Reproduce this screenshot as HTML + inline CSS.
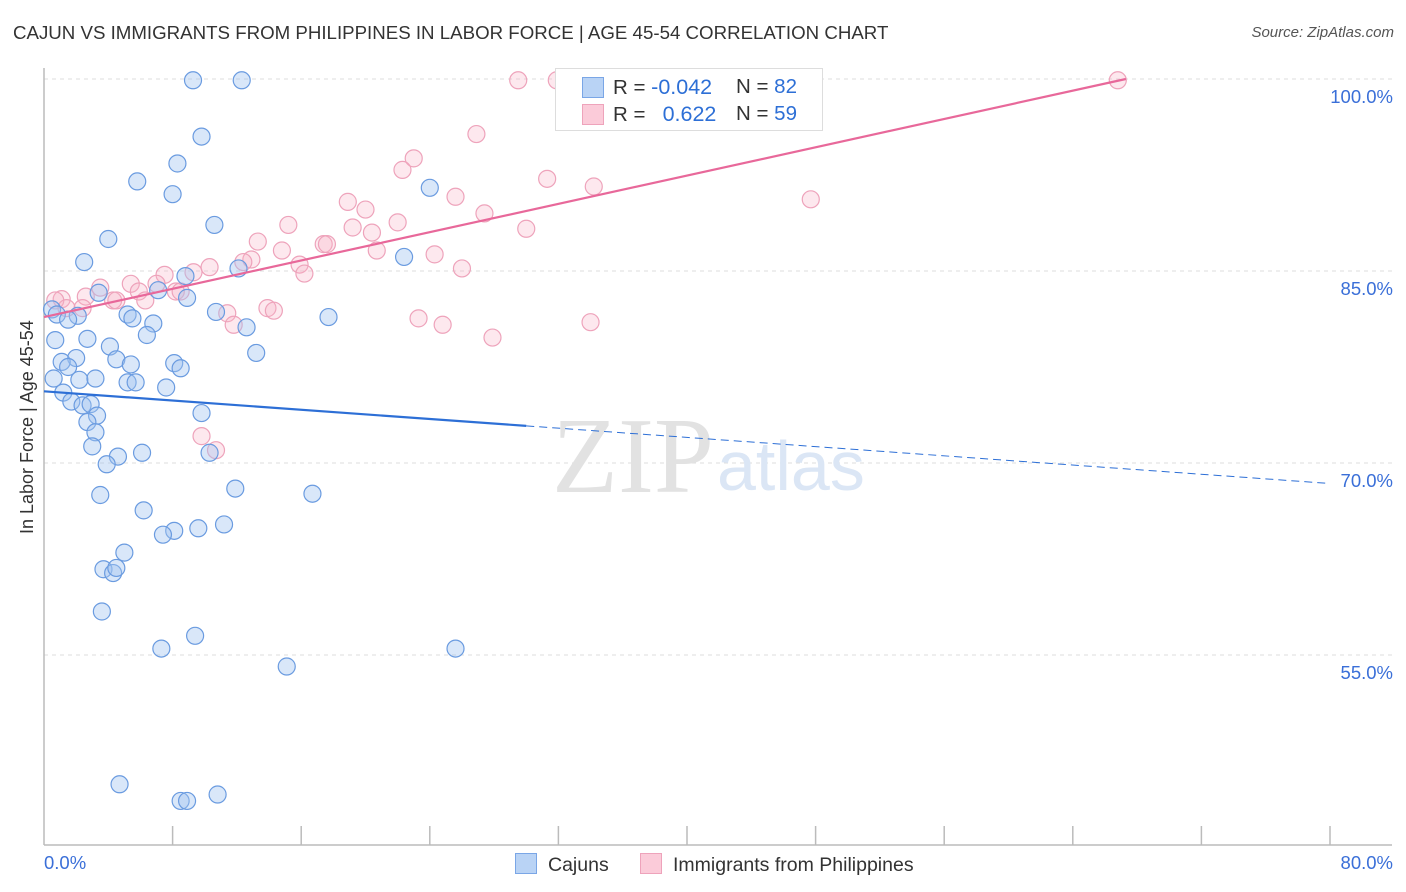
<!DOCTYPE html>
<html><head><meta charset="utf-8">
<style>
body{margin:0;background:#fff;font-family:"Liberation Sans",sans-serif;}
#wrap{position:relative;width:1406px;height:892px;overflow:hidden;}
.t{position:absolute;white-space:nowrap;}
</style></head>
<body><div id="wrap">
<div class="t" style="left:13px;top:22px;font-size:18.7px;color:#333;">CAJUN VS IMMIGRANTS FROM PHILIPPINES IN LABOR FORCE | AGE 45-54 CORRELATION CHART</div>
<div class="t" style="right:12px;top:24px;font-size:15px;color:#555;font-style:italic;">Source: ZipAtlas.com</div>
<svg id="plot" width="1406" height="892" style="position:absolute;left:0;top:0"></svg>
</div>
<script>
const blueX=[9.27,12.3,9.8,8.3,5.8,8.0,24.0,10.6,4.0,2.5,22.4,12.1,8.8,7.1,3.4,8.9,0.5,0.8,2.1,1.5,5.2,5.5,6.8,10.7,17.7,12.6,6.4,2.7,0.7,4.1,13.2,2.0,1.1,4.5,5.4,8.1,8.5,1.5,0.6,2.2,3.2,5.2,5.7,7.6,1.2,1.7,2.4,2.9,3.3,9.8,2.7,3.2,3.0,6.1,4.6,3.9,10.3,11.9,3.5,16.7,6.2,8.1,7.4,9.6,11.2,5.0,3.7,4.3,4.5,3.6,9.4,7.3,15.1,25.6,4.7,10.8,8.5,8.9];
const blueY=[99.9,99.9,95.5,93.4,92.0,91.0,91.5,88.6,87.5,85.7,86.1,85.2,84.6,83.5,83.3,82.9,82.0,81.6,81.5,81.2,81.6,81.3,80.9,81.8,81.4,80.6,80.0,79.7,79.6,79.1,78.6,78.2,77.9,78.1,77.7,77.8,77.4,77.5,76.6,76.5,76.6,76.3,76.3,75.9,75.5,74.8,74.5,74.6,73.7,73.9,73.2,72.4,71.3,70.8,70.5,69.9,70.8,68.0,67.5,67.6,66.3,64.7,64.4,64.9,65.2,63.0,61.7,61.4,61.8,58.4,56.5,55.5,54.1,55.5,44.9,44.1,43.6,43.6];
const pinkX=[29.5,31.9,66.8,26.9,23.0,22.3,31.3,34.2,25.6,47.7,18.9,20.0,27.4,15.2,22.0,19.2,20.4,30.0,13.3,14.8,17.4,17.6,20.7,24.3,12.9,12.4,15.9,10.3,16.2,26.0,7.5,9.3,7.0,5.4,3.5,5.9,8.2,8.5,2.6,1.1,0.7,4.3,6.3,1.4,2.4,4.5,11.4,13.9,14.3,11.8,23.3,24.8,34.0,27.9,9.8,10.7];
const pinkY=[99.9,99.9,99.9,95.7,93.8,92.9,92.2,91.6,90.8,90.6,90.4,89.8,89.5,88.6,88.8,88.4,88.0,88.3,87.3,86.6,87.1,87.1,86.6,86.3,85.9,85.7,85.5,85.3,84.8,85.2,84.7,84.9,84.0,84.0,83.7,83.4,83.4,83.4,83.0,82.8,82.7,82.7,82.7,82.1,82.1,82.7,81.7,82.1,81.9,80.8,81.3,80.8,81.0,79.8,72.1,71.0];
const yTicks=[100,85,70,55];
const yTickLabels=["100.0%","85.0%","70.0%","55.0%"];
const blueTrend=[75.6,68.4]; // y at x=0, x=80
const pinkTrend=[81.4,100.0,67.3]; // y at x=0, y at xEnd, xEnd
const NS="http://www.w3.org/2000/svg";
const svg=document.getElementById('plot');
const X=v=>44+v/80*1286;
const Y=v=>79+(100-v)/15*192;
function mk(tag,a){const e=document.createElementNS(NS,tag);for(const k in a)e.setAttribute(k,a[k]);svg.appendChild(e);return e;}
yTicks.forEach((t,i)=>{
 const g=mk('line',{x1:44,x2:1392,y1:Y(t),y2:Y(t),stroke:'#ddd','stroke-dasharray':'4,4'});
 
 
 const tx=mk('text',{x:1393,y:Y(t)+24,'text-anchor':'end','font-size':18.5,fill:'#3a6fd8','font-family':'Liberation Sans, sans-serif'});
 tx.textContent=yTickLabels[i];
 
 
});
const ax=mk('line',{x1:44,x2:44,y1:68,y2:845,stroke:'#bbb','stroke-width':1.5});


const bx=mk('line',{x1:44,x2:1392,y1:845,y2:845,stroke:'#bbb','stroke-width':1.5});


for(let i=1;i<=10;i++){const tk=mk('line',{x1:X(i*8),x2:X(i*8),y1:826,y2:845,stroke:'#bbb','stroke-width':1.5});
 
 }
const wm=mk('text',{x:552,y:492,'font-size':108,fill:'#e2e2e2','font-family':'Liberation Serif, serif'});wm.textContent='ZIP';


const wm2=mk('text',{x:717,y:490,'font-size':70,fill:'#dbe6f5','font-family':'Liberation Sans, sans-serif'});wm2.textContent='atlas';


pinkX.forEach((x,i)=>{const c=mk('circle',{cx:X(x),cy:Y(pinkY[i]),r:8.5,fill:'rgba(248,180,200,0.3)',stroke:'#eea3bb','stroke-width':1.2});
 
 });
blueX.forEach((x,i)=>{const c=mk('circle',{cx:X(x),cy:Y(blueY[i]),r:8.5,fill:'rgba(160,195,240,0.4)',stroke:'#6a9be0','stroke-width':1.2});
 
 });
const bAt=x=>blueTrend[0]+(blueTrend[1]-blueTrend[0])*x/80;
const l1=mk('line',{x1:X(0),y1:Y(bAt(0)),x2:X(30),y2:Y(bAt(30)),stroke:'#2d6fd6','stroke-width':2.2});


const l2=mk('line',{x1:X(30),y1:Y(bAt(30)),x2:X(80),y2:Y(bAt(80)),stroke:'#2d6fd6','stroke-width':1,'stroke-dasharray':'8,5'});


const l3=mk('line',{x1:X(0),y1:Y(pinkTrend[0]),x2:X(pinkTrend[2]),y2:Y(pinkTrend[1]),stroke:'#e8689a','stroke-width':2.2});


</script>
<div class="t" style="left:-50px;top:446px;transform:rotate(-90deg);transform-origin:center;width:155px;text-align:center;font-size:18px;color:#333;">In Labor Force | Age 45-54</div>
<div class="t" style="left:44px;top:852px;font-size:18.5px;color:#3a6fd8;">0.0%</div>
<div class="t" style="right:13px;top:852px;font-size:18.5px;color:#3a6fd8;">80.0%</div>
<div style="position:absolute;left:555px;top:68px;width:266px;height:61px;border:1px solid #ddd;background:#fff;font-size:20.5px;color:#333;">
 <div style="position:absolute;left:26px;top:8px;width:20px;height:19px;background:#b9d3f5;border:1px solid #7aa6e6"></div>
 <div style="position:absolute;left:26px;top:35px;width:20px;height:19px;background:#fbcbd9;border:1px solid #eea3bb"></div>
 <div class="t" style="left:57px;top:6px">R = <span style="color:#2d6fd6;font-size:21.5px">-0.042</span></div>
 <div class="t" style="left:180px;top:6px">N = <span style="color:#2d6fd6">82</span></div>
 <div class="t" style="left:57px;top:33px">R = &nbsp;&nbsp;<span style="color:#2d6fd6;font-size:21.5px">0.622</span></div>
 <div class="t" style="left:180px;top:33px">N = <span style="color:#2d6fd6">59</span></div>
</div>
<div style="position:absolute;left:515px;top:853px;font-size:19.5px;color:#333;">
 <span style="display:inline-block;width:20px;height:19px;background:#b9d3f5;border:1px solid #7aa6e6;vertical-align:-3px;margin-right:11px"></span>Cajuns</div>
<div style="position:absolute;left:640px;top:853px;font-size:19.5px;color:#333;">
 <span style="display:inline-block;width:20px;height:19px;background:#fbcbd9;border:1px solid #eea3bb;vertical-align:-3px;margin-right:11px"></span>Immigrants from Philippines</div>
</body></html>
